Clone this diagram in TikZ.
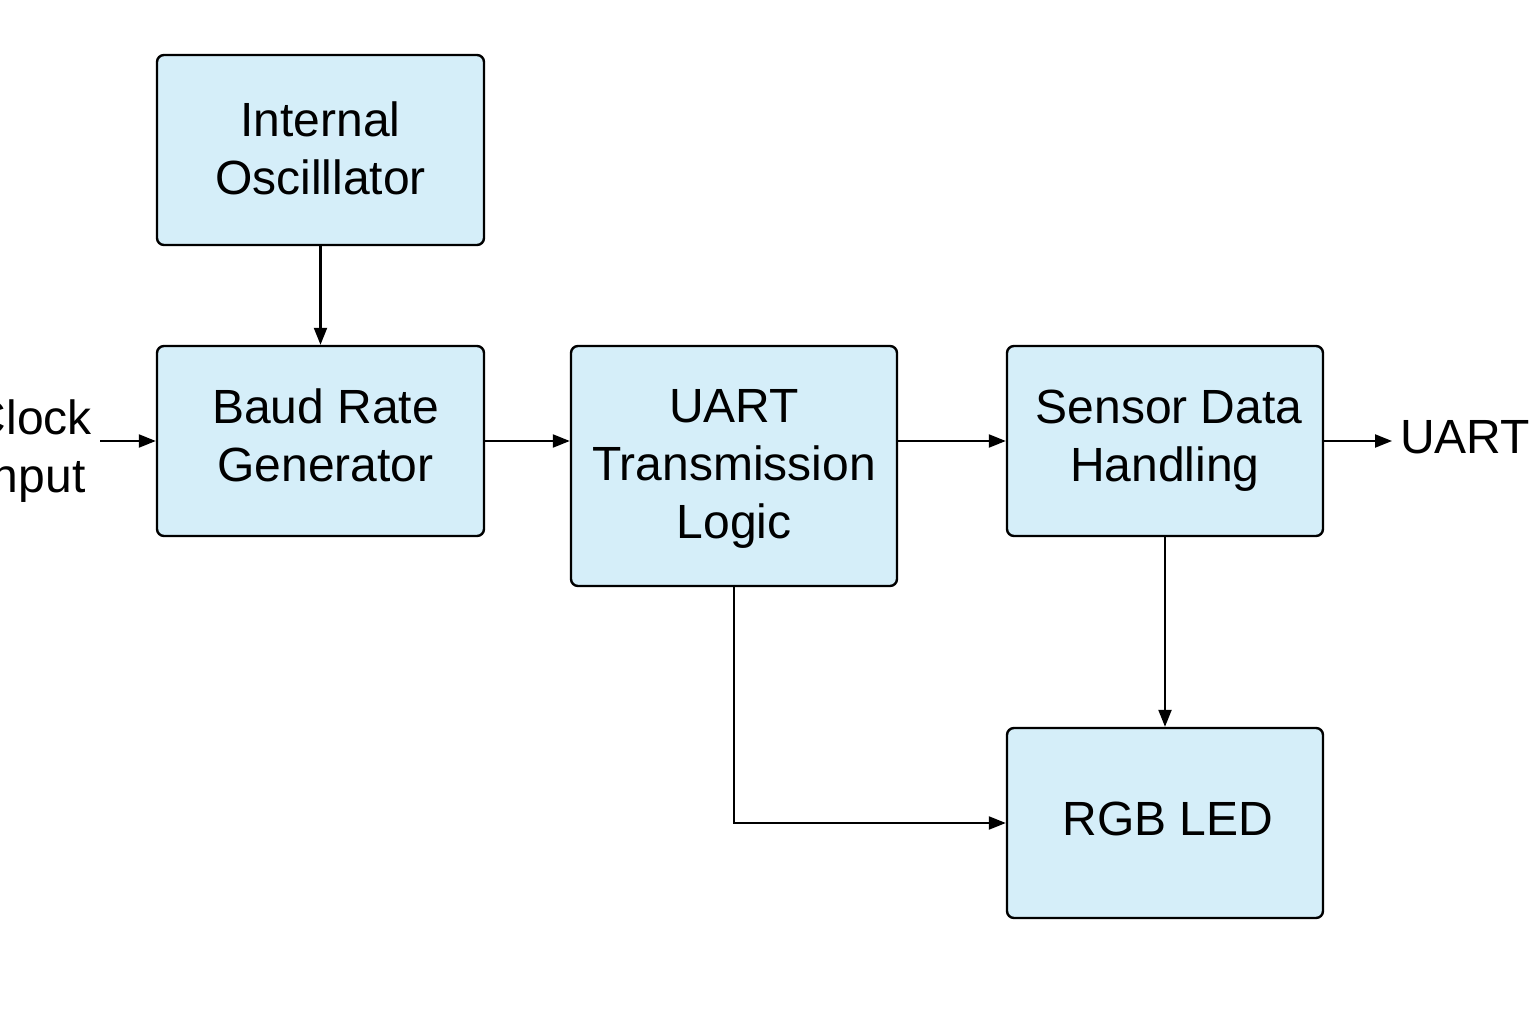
\documentclass[tikz,border=0pt]{standalone}
\usepackage{fontspec}
\setmainfont{Liberation Sans}
\usetikzlibrary{arrows.meta}
\definecolor{boxfill}{HTML}{D5EEF9}
\begin{document}
\begin{tikzpicture}[x=1pt,y=-1pt,
  blk/.style={draw=black,line width=2.4pt,fill=boxfill,rounded corners=7pt,
    align=center,inner sep=0pt,font=\fontsize{48}{58}\selectfont},
  lbl/.style={align=center,font=\fontsize{48}{58}\selectfont},
  conn/.style={line width=2.2pt,-{Triangle[length=17pt,width=13pt]}}]
\useasboundingbox (0,0) rectangle (1536,1024);
\node[blk,minimum width=327pt,minimum height=190pt] (osc) at (320.5,150) {\raisebox{-4pt}[\height][\depth]{\begin{tabular}{@{}c@{}}Internal\\Oscilllator\end{tabular}}};
\node[blk,minimum width=327pt,minimum height=190pt] (baud) at (320.5,441) {\raisebox{5pt}{\begin{tabular}{@{}c@{}}\hspace*{10pt}Baud Rate\\\hspace*{10pt}Generator\end{tabular}}};
\node[blk,minimum width=326pt,minimum height=240pt] (uart) at (734,466) {\raisebox{-3pt}[\height][\depth]{\begin{tabular}{@{}c@{}}UART\\Transmission\\Logic\end{tabular}}};
\node[blk,minimum width=316pt,minimum height=190pt] (sensor) at (1165,441) {\raisebox{5pt}{\begin{tabular}{@{}c@{}}\hspace*{8pt}Sensor Data\\Handling\end{tabular}}};
\node[blk,minimum width=316pt,minimum height=190pt] (rgb) at (1165,823) {\raisebox{8pt}{\hspace*{6pt}RGB LED}};
\node[lbl,inner sep=0pt] (clk) at (32,451) {Clock\\Input};
\coordinate (clkend) at (100,441);
\node[lbl,anchor=west,inner sep=0pt] (uartout) at (1400,437) {UART};
\coordinate (uartin) at (1392,441);
\draw[conn] (osc.south) -- (baud.north);
\draw[conn] (clkend) -- (baud.west);
\draw[conn] (baud.east) -- (baud.east -| uart.west);
\draw[conn] (uart.west |- sensor.west) ++(326,0) -- (sensor.west);
\draw[conn] (sensor.east) -- (uartin);
\draw[conn] (sensor.south) -- (rgb.north);
\draw[conn] (uart.south) |- (rgb.west);
\end{tikzpicture}
\end{document}
